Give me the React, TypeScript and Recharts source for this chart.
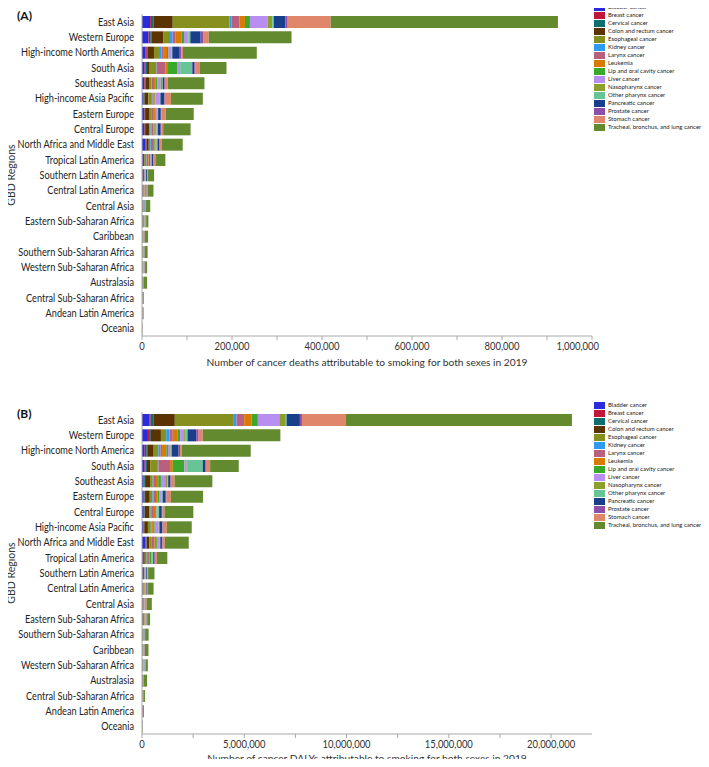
import React from 'react';
import { BarChart, Bar, XAxis, YAxis, Legend } from 'recharts';

const cancerTypes = [
  'Bladder cancer',
  'Breast cancer',
  'Cervical cancer',
  'Colon and rectum cancer',
  'Esophageal cancer',
  'Kidney cancer',
  'Larynx cancer',
  'Leukemia',
  'Lip and oral cavity cancer',
  'Liver cancer',
  'Nasopharynx cancer',
  'Other pharynx cancer',
  'Pancreatic cancer',
  'Prostate cancer',
  'Stomach cancer',
  'Tracheal, bronchus, and lung cancer',
];

const cancerColors = [
  '#2b2bdc', '#c0163a', '#0e6e6e', '#5a3300', '#86901f', '#2f9bf0', '#b9607f', '#d97a05',
  '#3aa82a', '#b88ef0', '#8aa02a', '#66c497', '#1a3f8a', '#8d4fa8', '#e0866b', '#638a2f',
];

// ---------- Panel A: deaths ----------
const regionsDeaths = [
  'East Asia', 'Western Europe', 'High-income North America', 'South Asia', 'Southeast Asia',
  'High-income Asia Pacific', 'Eastern Europe', 'Central Europe', 'North Africa and Middle East',
  'Tropical Latin America', 'Southern Latin America', 'Central Latin America', 'Central Asia',
  'Eastern Sub-Saharan Africa', 'Caribbean', 'Southern Sub-Saharan Africa', 'Western Sub-Saharan Africa',
  'Australasia', 'Central Sub-Saharan Africa', 'Andean Latin America', 'Oceania',
];

const bladderDeaths = [17800, 14500, 7300, 5800, 4800, 3400, 4400, 4500, 8000, 1500, 1000, 800, 400, 400, 300, 400, 300, 400, 100, 100, 20];
const breastDeaths = [2000, 3900, 3400, 1500, 1500, 1000, 1500, 1500, 1500, 500, 300, 300, 200, 200, 100, 100, 200, 100, 50, 50, 20];
const cervicalDeaths = [5500, 3400, 1900, 3900, 1500, 1000, 1000, 1000, 500, 500, 300, 400, 200, 400, 200, 300, 300, 100, 100, 100, 30];
const colonDeaths = [43000, 26000, 14000, 5800, 7800, 8700, 8700, 9000, 5000, 3000, 2500, 1500, 1000, 600, 600, 500, 500, 800, 150, 200, 50];
const esophagealDeaths = [126000, 14500, 11100, 14500, 4800, 7800, 4400, 3000, 3500, 4000, 1200, 800, 1500, 2500, 700, 1500, 400, 400, 500, 100, 50];
const kidneyDeaths = [5000, 5800, 5800, 1000, 1000, 1500, 1900, 2500, 1500, 800, 600, 600, 200, 100, 100, 100, 100, 200, 30, 50, 10];
const larynxDeaths = [17000, 6800, 3400, 19400, 5300, 1500, 4400, 4000, 4500, 3500, 800, 700, 600, 600, 800, 500, 500, 200, 200, 100, 50];
const leukemiaDeaths = [12500, 13500, 8700, 5800, 2900, 3400, 2400, 2500, 3000, 1500, 800, 800, 400, 400, 300, 300, 300, 300, 100, 100, 30];
const lipOralDeaths = [11000, 4900, 3400, 21300, 4800, 1500, 1900, 2500, 1500, 2500, 400, 500, 300, 800, 300, 400, 400, 200, 150, 50, 100];
const liverDeaths = [39000, 7800, 5800, 3900, 6800, 9700, 2400, 2000, 3500, 1800, 800, 1200, 800, 800, 300, 300, 1500, 300, 300, 200, 80];
const nasopharynxDeaths = [10500, 1900, 1000, 1900, 3400, 500, 500, 500, 1000, 300, 100, 100, 100, 300, 100, 100, 300, 50, 100, 20, 20];
const otherPharynxDeaths = [3500, 4400, 1500, 27000, 1500, 1000, 2400, 2500, 1000, 2000, 300, 300, 300, 600, 400, 300, 400, 100, 150, 50, 50];
const pancreaticDeaths = [26000, 23000, 16500, 4400, 3400, 8700, 5800, 6000, 3500, 2500, 2200, 1600, 800, 400, 500, 400, 400, 600, 100, 200, 30];
const prostateDeaths = [5000, 5300, 3400, 1900, 1500, 1000, 1500, 1500, 1500, 1500, 600, 800, 200, 500, 800, 300, 600, 200, 150, 200, 30];
const stomachDeaths = [95500, 12600, 3900, 10700, 6300, 13500, 9700, 4000, 4000, 4000, 1500, 2600, 1800, 600, 500, 400, 600, 300, 200, 500, 100];
const lungDeaths = [505000, 184000, 164000, 59000, 81500, 71000, 62000, 61000, 47000, 22000, 13500, 12500, 9500, 5000, 7500, 6600, 4500, 7000, 1600, 1500, 700];

const deathSeries = [
  bladderDeaths, breastDeaths, cervicalDeaths, colonDeaths, esophagealDeaths, kidneyDeaths,
  larynxDeaths, leukemiaDeaths, lipOralDeaths, liverDeaths, nasopharynxDeaths, otherPharynxDeaths,
  pancreaticDeaths, prostateDeaths, stomachDeaths, lungDeaths,
];

const deathTicks = [0, 100000, 200000, 300000, 400000, 500000, 600000, 700000, 800000, 900000, 1000000];
const deathTickLabels = [0, 200000, 400000, 600000, 800000, 1000000];

// ---------- Panel B: DALYs ----------
const regionsDalys = [
  'East Asia', 'Western Europe', 'High-income North America', 'South Asia', 'Southeast Asia',
  'Eastern Europe', 'Central Europe', 'High-income Asia Pacific', 'North Africa and Middle East',
  'Tropical Latin America', 'Southern Latin America', 'Central Latin America', 'Central Asia',
  'Eastern Sub-Saharan Africa', 'Southern Sub-Saharan Africa', 'Caribbean', 'Western Sub-Saharan Africa',
  'Australasia', 'Central Sub-Saharan Africa', 'Andean Latin America', 'Oceania',
];

const bladderDalys = [375000, 245000, 130000, 130000, 70000, 80000, 85000, 60000, 170000, 30000, 20000, 15000, 10000, 10000, 10000, 7000, 8000, 9000, 3000, 2500, 600];
const breastDalys = [50000, 100000, 80000, 40000, 40000, 40000, 35000, 25000, 40000, 15000, 8000, 8000, 6000, 6000, 3000, 3000, 5000, 3000, 1500, 1500, 600];
const cervicalDalys = [150000, 90000, 50000, 70000, 40000, 30000, 25000, 25000, 15000, 15000, 8000, 10000, 6000, 12000, 8000, 5000, 8000, 3000, 3000, 2500, 1000];
const colonDalys = [1030000, 490000, 310000, 160000, 245000, 230000, 210000, 180000, 130000, 75000, 55000, 35000, 25000, 18000, 13000, 14000, 13000, 17000, 4000, 5000, 1500];
const esophagealDalys = [2885000, 260000, 230000, 375000, 130000, 130000, 70000, 140000, 90000, 95000, 25000, 18000, 38000, 70000, 38000, 16000, 10000, 9000, 14000, 2500, 1500];
const kidneyDalys = [130000, 160000, 100000, 30000, 30000, 60000, 55000, 35000, 40000, 20000, 15000, 15000, 6000, 4000, 3000, 3000, 3000, 5000, 1000, 1500, 300];
const larynxDalys = [375000, 160000, 80000, 570000, 130000, 115000, 100000, 30000, 120000, 90000, 18000, 16000, 16000, 16000, 13000, 20000, 13000, 5000, 5000, 2500, 1500];
const leukemiaDalys = [360000, 245000, 210000, 130000, 110000, 70000, 65000, 90000, 90000, 40000, 20000, 22000, 12000, 12000, 8000, 8000, 9000, 8000, 3000, 3000, 1000];
const lipOralDalys = [310000, 115000, 80000, 570000, 130000, 80000, 65000, 35000, 40000, 65000, 10000, 12000, 8000, 22000, 11000, 8000, 11000, 5000, 4000, 1500, 3000];
const liverDalys = [1045000, 195000, 115000, 110000, 210000, 100000, 55000, 195000, 100000, 45000, 18000, 28000, 20000, 22000, 8000, 7000, 40000, 7000, 9000, 5000, 2500];
const nasopharynxDalys = [280000, 50000, 25000, 50000, 115000, 15000, 12000, 12000, 30000, 8000, 3000, 3000, 3000, 9000, 3000, 3000, 8000, 1000, 3000, 500, 600];
const otherPharynxDalys = [80000, 115000, 40000, 735000, 30000, 60000, 60000, 25000, 30000, 50000, 8000, 8000, 8000, 18000, 9000, 10000, 11000, 3000, 4000, 1500, 1500];
const pancreaticDalys = [650000, 425000, 340000, 110000, 100000, 150000, 130000, 140000, 80000, 55000, 45000, 35000, 20000, 10000, 10000, 11000, 10000, 12000, 3000, 5000, 800];
const prostateDalys = [100000, 115000, 70000, 40000, 30000, 40000, 28000, 20000, 30000, 30000, 12000, 15000, 5000, 10000, 6000, 15000, 12000, 4000, 3000, 3500, 600];
const stomachDalys = [2150000, 210000, 80000, 210000, 180000, 210000, 105000, 200000, 110000, 95000, 35000, 55000, 42000, 16000, 10000, 12000, 15000, 6000, 5000, 12000, 3000];
const lungDalys = [11050000, 3790000, 3375000, 1400000, 1850000, 1575000, 1410000, 1220000, 1170000, 510000, 310000, 270000, 255000, 140000, 170000, 175000, 110000, 150000, 80000, 42000, 18000];

const dalySeries = [
  bladderDalys, breastDalys, cervicalDalys, colonDalys, esophagealDalys, kidneyDalys,
  larynxDalys, leukemiaDalys, lipOralDalys, liverDalys, nasopharynxDalys, otherPharynxDalys,
  pancreaticDalys, prostateDalys, stomachDalys, lungDalys,
];

const dalyTicks = [0, 2500000, 5000000, 7500000, 10000000, 12500000, 15000000, 17500000, 20000000];
const dalyTickLabels = [0, 5000000, 10000000, 15000000, 20000000];

const FONT = 'Lato, "Liberation Sans", sans-serif';

function buildRows(regions: string[], series: number[][]) {
  return regions.map((region, i) => {
    const row: Record<string, any> = { region };
    cancerTypes.forEach((c, j) => {
      row[c] = series[j][i];
    });
    return row;
  });
}

const makeTick = (labelled: number[], lastAtEdge: number | null) => (props: any) => {
  const { x, y, payload } = props;
  const v = payload.value as number;
  if (!labelled.includes(v)) return <g />;
  const atEdge = lastAtEdge !== null && v === lastAtEdge;
  return (
    <g transform={`translate(${atEdge ? x + 7 : x},${y})`}>
      <text
        x={0}
        y={0}
        dy="0.71em"
        transform="scale(0.9,1)"
        textAnchor={atEdge ? 'end' : 'middle'}
        fontSize={10.5}
        fontFamily={FONT}
        fill="#333"
      >
        {v.toLocaleString('en-US')}
      </text>
    </g>
  );
};

const RegionTick = (props: any) => {
  const { x, y, payload } = props;
  return (
    <g transform={`translate(${x},${y})`}>
      <text
        x={0}
        y={0}
        dy="0.36em"
        transform="scale(0.85,1)"
        textAnchor="end"
        fontSize={10.8}
        fontFamily={FONT}
        fill="#222"
      >
        {payload.value}
      </text>
    </g>
  );
};

const LegendContent = (props: any) => {
  const items = props.payload || [];
  return (
    <div style={{ width: 115, fontFamily: FONT }}>
      {items.map((entry: any) => (
        <div key={entry.value} style={{ display: 'flex', alignItems: 'center', height: 8 }}>
          <span
            style={{ width: 11, height: 7, background: entry.color, marginRight: 3, flex: 'none' }}
          />
          <span style={{ fontSize: 6.0, lineHeight: '8px', color: '#222', whiteSpace: 'nowrap' }}>
            {entry.value}
          </span>
        </div>
      ))}
    </div>
  );
};

type PanelProps = {
  top: number;
  panel: string;
  regions: string[];
  series: number[][];
  domainMax: number;
  ticks: number[];
  tickLabels: number[];
  edgeTick: number | null;
  title: string;
  legendTop: number;
  titleOffset: number;
};

function Panel({ top, panel, regions, series, domainMax, ticks, tickLabels, edgeTick, title, legendTop, titleOffset }: PanelProps) {
  const data = buildRows(regions, series);
  return (
    <div style={{ position: 'absolute', left: 0, top, width: 709, height: 370 }}>
      <div
        style={{
          position: 'absolute',
          left: 17,
          top: 9,
          fontFamily: FONT,
          fontWeight: 700,
          fontSize: 12,
          lineHeight: '14px',
          color: '#111',
          zIndex: 2,
        }}
      >
        {panel}
      </div>
      <BarChart
        width={709}
        height={370}
        data={data}
        layout="vertical"
        margin={{ top: 14, right: 2, left: 0, bottom: 0 }}
        barSize={12}
      >
        <XAxis
          type="number"
          domain={[0, domainMax]}
          ticks={ticks}
          interval={0}
          tick={makeTick(tickLabels, edgeTick)}
          tickLine={{ stroke: '#a8a8a8' }}
          tickSize={4}
          tickMargin={3}
          axisLine={{ stroke: '#a8a8a8' }}
          height={34}
          allowDataOverflow
          label={{
            value: title,
            position: 'insideBottom',
            offset: titleOffset,
            style: { fontSize: 10.2, fontFamily: FONT, fill: '#333' },
          }}
        />
        <XAxis
          xAxisId="frameTop"
          orientation="top"
          type="number"
          domain={[0, domainMax]}
          tick={false}
          tickLine={false}
          axisLine={{ stroke: '#d0d0d0' }}
          height={0}
          allowDataOverflow
        />
        <YAxis
          type="category"
          dataKey="region"
          width={142}
          interval={0}
          tickLine={false}
          tickMargin={2}
          axisLine={{ stroke: '#a8a8a8' }}
          tick={<RegionTick />}
          label={{
            value: 'GBD Regions',
            angle: -90,
            position: 'insideLeft',
            offset: 11,
            style: { textAnchor: 'middle', fontSize: 10.5, fontFamily: FONT, fill: '#333' },
          }}
        />
        <YAxis
          yAxisId="frameRight"
          orientation="right"
          type="category"
          dataKey="region"
          tick={false}
          tickLine={false}
          width={0}
          axisLine={{ stroke: '#d0d0d0' }}
        />
        <Legend
          layout="vertical"
          align="right"
          verticalAlign="top"
          wrapperStyle={{ left: 594, top: legendTop, width: 115, right: 'auto' }}
          content={<LegendContent />}
        />
        {cancerTypes.map((c, i) => (
          <Bar
            key={c}
            dataKey={c}
            stackId="total"
            fill={cancerColors[i]}
            isAnimationActive={false}
          />
        ))}
      </BarChart>
    </div>
  );
}

export default function App() {
  return (
    <div style={{ position: 'relative', margin: -8, width: 709, height: 767, background: '#fff', overflow: 'hidden' }}>
      <Panel
        top={0}
        panel="(A)"
        regions={regionsDeaths}
        series={deathSeries}
        domainMax={1000000}
        ticks={deathTicks}
        tickLabels={deathTickLabels}
        edgeTick={1000000}
        title="Number of cancer deaths attributable to smoking for both sexes in 2019"
        legendTop={3}
        titleOffset={4}
      />
      <Panel
        top={398}
        panel="(B)"
        regions={regionsDalys}
        series={dalySeries}
        domainMax={22000000}
        ticks={dalyTicks}
        tickLabels={dalyTickLabels}
        edgeTick={null}
        title="Number of cancer DALYs attributable to smoking for both sexes in 2019"
        legendTop={3}
        titleOffset={6}
      />
    </div>
  );
}
